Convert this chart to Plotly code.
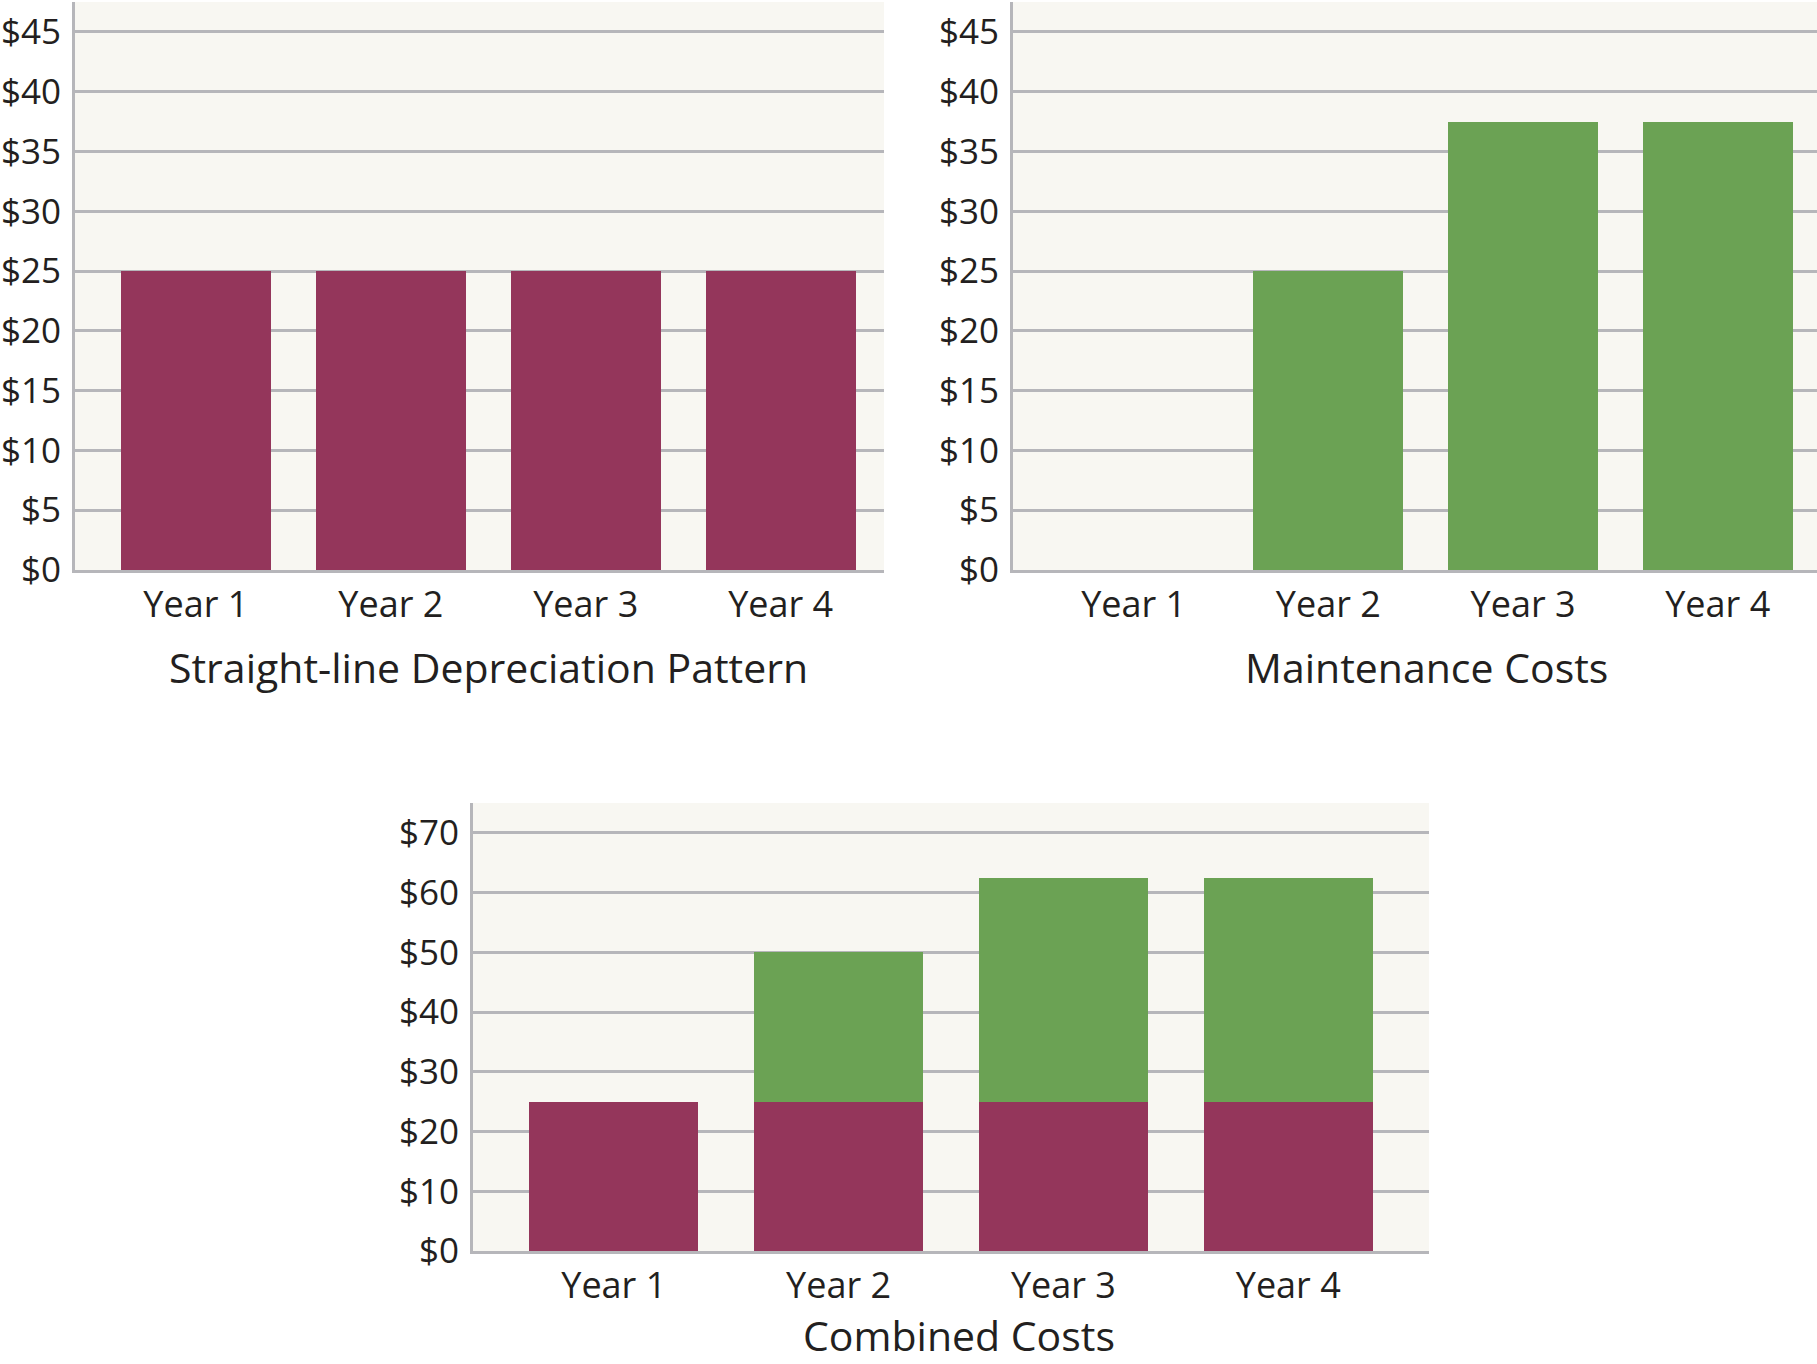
import plotly.graph_objects as go

years = ["Year 1", "Year 2", "Year 3", "Year 4"]
depreciation = [25, 25, 25, 25]
maintenance = [0, 25, 37.5, 37.5]
top_ticks = [0, 5, 10, 15, 20, 25, 30, 35, 40, 45]
bottom_ticks = [0, 10, 20, 30, 40, 50, 60, 70]
top_tick_text = ["$" + str(v) for v in top_ticks]
bottom_tick_text = ["$" + str(v) for v in bottom_ticks]
titles = ["Straight-line Depreciation Pattern", "Maintenance Costs", "Combined Costs"]

MAROON = "#94365B"
GREEN = "#6BA254"
BG = "#F8F7F2"
GRID = "#B6B6BA"
TXT = "#231F20"
FONT = "Open Sans"
W, H = 1817, 1364
HF = 1386  # figure height (picture is compressed vertically)

fig = go.Figure()
fig.add_trace(go.Bar(x=years, y=depreciation, marker=dict(color=MAROON, line=dict(width=0)),
                     width=0.77, xaxis="x", yaxis="y", showlegend=False))
fig.add_trace(go.Bar(x=years, y=maintenance, marker=dict(color=GREEN, line=dict(width=0)),
                     width=0.77, xaxis="x2", yaxis="y2", showlegend=False))
fig.add_trace(go.Bar(x=years, y=depreciation, marker=dict(color=MAROON, line=dict(width=0)),
                     width=0.75, xaxis="x3", yaxis="y3", showlegend=False))
fig.add_trace(go.Bar(x=years, y=maintenance, marker=dict(color=GREEN, line=dict(width=0)),
                     width=0.75, xaxis="x3", yaxis="y3", showlegend=False))

def px(v):
    return v / W

def py(v):
    return 1 - v / H

common_x = dict(showgrid=False, showline=True, linecolor=GRID, linewidth=3, ticks="",
                tickfont=dict(family=FONT, size=36, color=TXT), ticklabelstandoff=1,
                fixedrange=True, type="category")
common_y = dict(showgrid=True, gridcolor=GRID, gridwidth=2.5, showline=True, linecolor=GRID,
                linewidth=3, ticks="", zeroline=False,
                tickfont=dict(family=FONT, size=35, color=TXT), ticklabelstandoff=4,
                fixedrange=True)

top_y_dom = [py(570), py(2)]
fig.update_layout(
    xaxis=dict(domain=[px(75), px(884)], range=[-0.62, 3.53], anchor="y", **common_x),
    yaxis=dict(domain=top_y_dom, range=[0, 47.5], tickvals=top_ticks, ticktext=top_tick_text,
               anchor="x", **common_y),
    xaxis2=dict(domain=[px(1013), 1.0], range=[-0.62, 3.51], anchor="y2", **common_x),
    yaxis2=dict(domain=top_y_dom, range=[0, 47.5], tickvals=top_ticks, ticktext=top_tick_text,
                anchor="x2", **common_y),
    xaxis3=dict(domain=[px(473), px(1429)], range=[-0.626, 3.626], anchor="y3", **common_x),
    yaxis3=dict(domain=[py(1251), py(803)], range=[0, 75], tickvals=bottom_ticks,
                ticktext=bottom_tick_text, anchor="x3", **common_y),
    barmode="stack",
    plot_bgcolor=BG,
    paper_bgcolor="white",
    width=W, height=HF,
    margin=dict(l=0, r=0, t=0, b=0),
    showlegend=False,
)

title_pos = [(489, 667), (1426, 667), (959, 1335)]
for t, (x, y) in zip(titles, title_pos):
    fig.add_annotation(text=t, x=px(x), y=py(y), xref="paper", yref="paper",
                       showarrow=False, xanchor="center", yanchor="middle",
                       font=dict(family=FONT, size=41, color=TXT))

fig.write_html("out.html", config={"displayModeBar": False},
               post_script="document.body.style.margin='0';document.body.style.overflow='hidden';")
